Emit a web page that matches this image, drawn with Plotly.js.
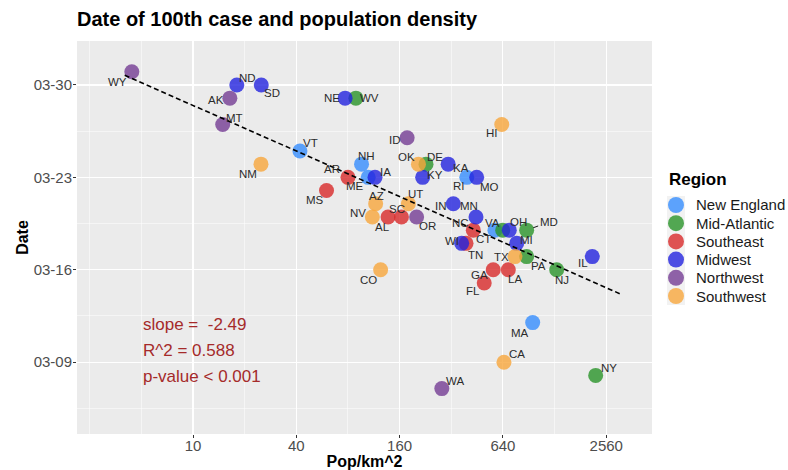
<!DOCTYPE html>
<html><head><meta charset="utf-8">
<script src="https://cdn.plot.ly/plotly-3.0.1.min.js"></script>
<style>html,body{margin:0;padding:0;background:#fff}#chart{width:788px;height:470px}</style>
</head><body><div id="chart"></div>
<script>
// ---------- data ----------
const states = ['WY','ND','SD','AK','MT','NE','WV','VT','NM','NH','AR','ME','IA','MS','AZ','NV','HI','ID','OK','DE','KA','KY','RI','MO','UT','IN','MN','SC','AL','OR','NC','CT','VA','OH','MD','MI','WI','TN','TX','PA','NJ','IL','GA','LA','FL','CO','MA','CA','NY','WA'];
const regions = ['Northwest','Midwest','Midwest','Northwest','Northwest','Midwest','Mid-Atlantic','New England','Southwest','New England','Southeast','New England','Midwest','Southeast','Southwest','Southwest','Southwest','Northwest','Southwest','Mid-Atlantic','Midwest','Midwest','New England','Midwest','Southwest','Midwest','Midwest','Southeast','Southeast','Northwest','Southeast','New England','Mid-Atlantic','Midwest','Mid-Atlantic','Midwest','Midwest','Southeast','Southwest','Mid-Atlantic','Mid-Atlantic','Midwest','Southeast','Southeast','Southeast','Southwest','New England','Southwest','Mid-Atlantic','Northwest'];
const density = [4.4,18,25,16.4,14.9,77,89,42,24.9,96,80,105,115,60,116,111,630,177,206,228,307,218,394,450,180,329,446,164,137,201,430,575,638,697,880,770,368,390,752,880,1317,2123,562,688,498,124,954,649,2222,282];
const dates = ['03-31','03-30','03-30','03-29','03-27','03-29','03-29','03-25','03-24','03-24','03-23','03-23','03-23','03-22','03-21','03-20','03-27','03-26','03-24','03-24','03-24','03-23','03-23','03-23','03-21','03-21','03-20','03-20','03-20','03-20','03-19','03-19','03-19','03-19','03-19','03-18','03-18','03-18','03-17','03-17','03-16','03-17','03-16','03-16','03-15','03-16','03-12','03-09','03-08','03-07'];
const regionOrder = ['New England','Mid-Atlantic','Southeast','Midwest','Northwest','Southwest'];
const xTickVals = [10,40,160,640,2560];
const xTickText = ['10','40','160','640','2560'];
const yTickText = ['03-09','03-16','03-23','03-30'];
const fitSlope = -2.49;
const statLines = ['slope =  -2.49','R^2 = 0.588','p-value < 0.001'];
const fitXRange = [4.0, 3080];

// ---------- style ----------
const regionColors = {'New England':'#368DFE','Mid-Atlantic':'#299329','Southeast':'#D82929','Midwest':'#2323DE','Northwest':'#743C94','Southwest':'#F7A63C'};
const labelDx = [-14,11,11,-14,12,-13,14,11,-13,5,-16,-13,10,-12,1,-14,-10,-12,-12,9,13,12,-8,13,7,-12,-7,-4,-6,11,-13,-11,-10,9,22,10,-10,9,-13,12,5,-9,-14,7,-11,-12,-13,13,13,13];
const labelDy = [10,-7,8,2,-7,0,0,-8,10,-8,-8,9,-5,9,-8,-4,8,2,-7,-7,4,-2,9,10,-10,2,-11,-8,10,9,-7,9,-7,-8,-8,-3,-2,12,0,9,10,6,5,9,8,10,10,-8,-7,-8];
const segStates = ['MD','TN'];
const FONT = 'Liberation Sans, Arial, Helvetica, sans-serif';
const W = 788, H = 470, M = {l:77, r:136, t:41, b:36};
const PW = W - M.l - M.r, PH = H - M.t - M.b;
const px2x = p => (p - M.l) / PW, py2y = p => (H - M.b - p) / PH;

function toDay(md){const p=md.split('-').map(Number);return (Date.UTC(2020,p[0]-1,p[1])-Date.UTC(2020,2,0))/86400000;}
const days = dates.map(toDay);
const yTickVals = yTickText.map(toDay);

const traces = [];
regionOrder.forEach(r=>{
  const idx = states.map((s,i)=>i).filter(i=>regions[i]===r);
  traces.push({type:'scatter',mode:'markers',name:r,showlegend:false,
    x: idx.map(i=>density[i]), y: idx.map(i=>days[i]),
    marker:{size:15,color:regionColors[r],opacity:0.8,line:{width:0}},
    hoverinfo:'text', text: idx.map(i=>states[i])});
});

// fitted line: given slope (per ln unit) through the data centroid
const lx = density.map(Math.log), n = lx.length;
const mx = lx.reduce((a,b)=>a+b,0)/n, my = days.reduce((a,b)=>a+b,0)/n;
const icpt = my - fitSlope*mx;
traces.push({type:'scatter',mode:'lines',x:fitXRange,y:fitXRange.map(v=>icpt+fitSlope*Math.log(v)),
  line:{color:'#000',width:1.6,dash:'5px,3px'},showlegend:false,hoverinfo:'skip'});

const annotations = states.map((s,i)=>({
  x: Math.log10(density[i]), y: days[i], xref:'x', yref:'y', text:s,
  showarrow:true, ax:labelDx[i], ay:labelDy[i], arrowhead:0, arrowwidth:0.9, standoff:7,
  arrowcolor: segStates.includes(s)?'#000':'rgba(0,0,0,0)',
  font:{family:FONT,size:11.5,color:'#2b2b2b'}
}));
const statY = [11.82, 9.86, 7.9];
statLines.forEach((t,k)=>annotations.push({x:Math.log10(5),y:statY[k],xref:'x',yref:'y',text:t,showarrow:false,
  xanchor:'left',yanchor:'middle',font:{family:FONT,size:17,color:'#A52A2A'}}));

// legend (ggplot style, drawn with annotations + shapes)
const shapes = [];
const legTitleY = 179, legTop = 205, legStep = 18.2, legKeyX = 676, legTextX = 694, legKeyR = 8;
shapes.push({type:'rect',xref:'paper',yref:'paper',x0:px2x(667),x1:px2x(685),
  y0:py2y(legTop-legStep/2),y1:py2y(legTop+legStep*(regionOrder.length-0.5)),
  fillcolor:'#F2F2F2',line:{width:0},layer:'above'});
annotations.push({xref:'paper',yref:'paper',x:px2x(667),y:py2y(legTitleY),text:'<b>Region</b>',showarrow:false,
  xanchor:'left',yanchor:'middle',font:{family:FONT,size:17,color:'#000'}});
regionOrder.forEach((r,k)=>{
  const cy = legTop + k*legStep;
  shapes.push({type:'circle',xref:'paper',yref:'paper',x0:px2x(legKeyX-legKeyR),x1:px2x(legKeyX+legKeyR),
    y0:py2y(cy+legKeyR),y1:py2y(cy-legKeyR),fillcolor:regionColors[r],opacity:0.8,line:{width:0},layer:'above'});
  annotations.push({xref:'paper',yref:'paper',x:px2x(legTextX),y:py2y(cy),text:r,showarrow:false,
    xanchor:'left',yanchor:'middle',font:{family:FONT,size:15,color:'#1a1a1a'}});
});

const axisCommon = {showline:false,zeroline:false,gridcolor:'#FFFFFF',gridwidth:1.1,
  ticks:'outside',ticklen:3,tickcolor:'#333333',tickwidth:1,
  tickfont:{family:FONT,size:15,color:'#4D4D4D'}};

const layout = {
  width:W,height:H,margin:M,
  paper_bgcolor:'#FFFFFF',plot_bgcolor:'#EBEBEB',
  font:{family:FONT},
  title:{text:'<b>Date of 100th case and population density</b>',font:{family:FONT,size:20,color:'#000'},
    x:M.l/W,xref:'container',xanchor:'left',y:1-12/H,yref:'container',yanchor:'top'},
  xaxis:Object.assign({},axisCommon,{type:'log',range:[0.324,3.675],tickmode:'array',tickvals:xTickVals,ticktext:xTickText,
    ticklabelstandoff:-5,
    minor:{tickmode:'array',tickvals:[2.5,5,20,80,320,1280],showgrid:true,gridcolor:'#FFFFFF',gridwidth:0.5,ticks:''},
    title:{text:'<b>Pop/km^2</b>',font:{family:FONT,size:16,color:'#000'},standoff:2}}),
  yaxis:Object.assign({},axisCommon,{range:[3.56,33.33],tickmode:'array',tickvals:yTickVals,ticktext:yTickText,
    ticklabelstandoff:-2,
    minor:{tickmode:'array',tickvals:[5.5,12.5,19.5,26.5],showgrid:true,gridcolor:'#FFFFFF',gridwidth:0.5,ticks:''},
    title:{text:'<b>Date</b>',font:{family:FONT,size:16,color:'#000'},standoff:1}}),
  showlegend:false,
  annotations:annotations, shapes:shapes,
  hovermode:'closest'
};
Plotly.newPlot('chart',traces,layout,{displayModeBar:false,staticPlot:true});
</script></body></html>
